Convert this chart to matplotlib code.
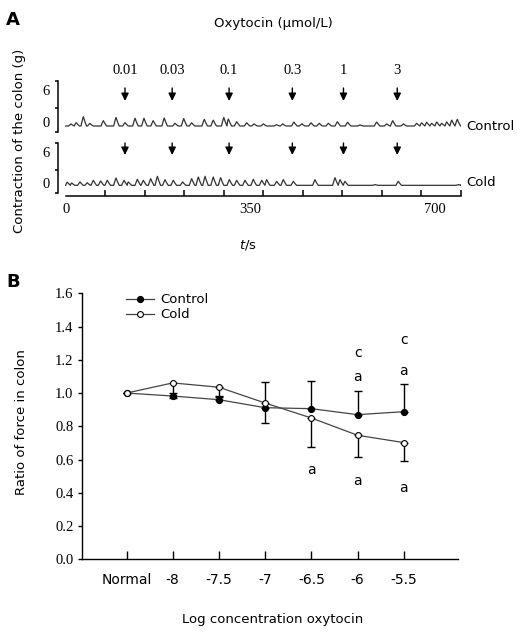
import numpy as np
import matplotlib
matplotlib.use("Agg")
import matplotlib.pyplot as plt

# ---------------- data ----------------
# Panel A: contraction traces (peak times in s, peak heights in g above baseline)
ctrl_peak_t = [10, 20, 33.5, 46, 71.5, 95.5, 112.6, 131.6, 148.6, 166, 187, 207.5, 224, 239,
               263, 280, 300, 308.7, 324.5, 343.5, 357.4, 375, 400, 411.8, 433, 448, 465.5,
               481, 498.4, 515.5, 535, 558.5, 590, 609, 620.5, 640.7, 666, 675.5, 685, 694.5,
               704, 713.5, 723, 732.5, 743]
ctrl_peak_h = [0.375, 0.625, 1.75, 0.5, 1.0, 1.6, 0.625, 1.45, 1.45, 1.0, 1.5, 0.5, 1.4, 0.6,
               1.25, 1.1, 1.6, 1.3, 0.8, 0.6, 0.4, 0.4, 0.25, 0.4, 0.75, 0.4, 0.6,
               0.5, 0.5, 0.8, 0.7, 0.2, 0.75, 0.4, 1.0, 0.4, 0.5, 0.6, 0.7, 0.5,
               0.75, 0.5, 0.75, 1.1, 1.25]
ctrl_base = -0.75

cold_peak_t = [3, 11.4, 27.2, 41, 52.5, 66.4, 79, 95.5, 110.7, 119, 136, 147.4, 161.3, 174,
               188.5, 204.3, 222, 239, 251.7, 264.4, 280, 294, 310.6, 324.5, 340.3, 356, 372,
               381.4, 400.4, 413, 432, 473, 511, 520.6, 530, 587, 631, 745]
cold_peak_h = [0.6, 0.45, 0.65, 0.5, 0.97, 0.84, 0.97, 1.42, 0.97, 0.65, 1.16, 0.97, 1.29, 1.74,
               1.1, 0.97, 0.65, 1.29, 1.61, 1.74, 1.61, 1.48, 1.1, 0.97, 0.97, 1.16, 0.97,
               1.1, 0.77, 1.1, 0.77, 1.1, 1.48, 1.1, 0.77, 0.13, 0.77, 0.13]
cold_base = -0.45

dose_times = [112.5, 202, 310, 430, 527, 629]
dose_labels = ["0.01", "0.03", "0.1", "0.3", "1", "3"]

# Panel B: ratio of force
conc_labels = ["Normal", "-8", "-7.5", "-7", "-6.5", "-6", "-5.5"]
control_vals = [1.0, 0.982, 0.960, 0.912, 0.906, 0.870, 0.888]
control_err_up = [0.0, 0.02, 0.02, 0.157, 0.169, 0.145, 0.169]
cold_vals = [1.0, 1.061, 1.035, 0.940, 0.850, 0.746, 0.702]
cold_err_down = [0.0, 0.089, 0.057, 0.122, 0.176, 0.128, 0.108]
sig_marks = [(5, 1.243, "c"), (5, 1.095, "a"), (6, 1.32, "c"), (6, 1.135, "a"),
             (4, 0.537, "a"), (5, 0.473, "a"), (6, 0.427, "a")]

SANS = ["DejaVu Sans"]
SERIF = ["Liberation Serif", "DejaVu Serif"]
plt.rcParams['font.family'] = SANS

W, H = 521, 637
fig = plt.figure(figsize=(W / 100, H / 100), dpi=100)


def frac_rect(x0, y_top, x1, y_bot):
    return [x0 / W, 1 - y_bot / H, (x1 - x0) / W, (y_bot - y_top) / H]


def build_trace(pt, ph, base, t0=0, t1=750, rise=4.5, fall=6.0):
    ts, ys = [t0], [base]
    for t, h in zip(pt, ph):
        a = max(t - rise, ts[-1])
        ts += [a, t - rise * 0.3, t, t + fall * 0.4, t + fall]
        ys += [ys[-1] if a == ts[-1] else base, base + h * 0.75, base + h, base + h * 0.55, base]
    ts.append(t1)
    ys.append(base)
    return np.array(ts), np.array(ys)


px_per_s = (461 - 65.7) / 750
xleft = -(65.7 - 58.3) / px_per_s

# ---- control trace axes ----
ax_c = fig.add_axes(frac_rect(58.3, 81, 461, 132))
s_c = 5.33
ax_c.set_ylim(-(132 - 122) / s_c, (122 - 81) / s_c)
ax_c.set_xlim(xleft, 750)
tc, yc = build_trace(ctrl_peak_t, ctrl_peak_h, ctrl_base)
ax_c.plot(tc, yc, color="#333333", lw=0.9)

# ---- cold trace axes ----
ax_d = fig.add_axes(frac_rect(58.3, 143, 461, 193))
s_d = 5.17
ax_d.set_ylim(-(193 - 183) / s_d, (183 - 143) / s_d)
ax_d.set_xlim(xleft, 750)
td, yd = build_trace(cold_peak_t, cold_peak_h, cold_base)
ax_d.plot(td, yd, color="#333333", lw=0.9)

for ax, s, lab0 in [(ax_c, s_c, 122), (ax_d, s_d, 183)]:
    for sp in ["top", "right", "bottom"]:
        ax.spines[sp].set_visible(False)
    ax.spines["left"].set_linewidth(1.1)
    lo, hi = ax.get_ylim()
    ax.set_yticks([0, 6])
    ax.set_yticklabels(["0", "6"], fontfamily=SERIF, fontsize=10.5)
    ax.tick_params(axis="y", which="major", length=0, pad=6)
    ax.set_yticks([lo, (lo + hi) / 2 - 0.3, hi], minor=True)
    ax.tick_params(axis="y", which="minor", length=2.5, width=1.1, direction="out")
    ax.patch.set_alpha(0)

ax_c.set_xticks([])
# time axis on cold axes
ax_d.spines["bottom"].set_visible(True)
ax_d.spines["bottom"].set_position(("outward", 2.2))
ax_d.spines["bottom"].set_bounds(0, 750)
ax_d.spines["bottom"].set_linewidth(1.1)
ax_d.set_xticks([0, 350, 700])
ax_d.set_xticklabels(["0", "350", "700"], fontfamily=SERIF, fontsize=10.5)
ax_d.tick_params(axis="x", which="major", length=0, pad=5)
ax_d.set_xticks(np.arange(0, 751, 75), minor=True)
ax_d.tick_params(axis="x", which="minor", length=4.5, width=1.1, direction="in")

# arrows and dose labels
for t, lab in zip(dose_times, dose_labels):
    ax_c.annotate("", xy=(t, (122 - 101) / s_c), xytext=(t, (122 - 88) / s_c),
                  arrowprops=dict(arrowstyle="-|>,head_length=0.45,head_width=0.22",
                                  color="black", lw=1.0, shrinkA=0, shrinkB=0),
                  annotation_clip=False)
    ax_d.annotate("", xy=(t, (183 - 155) / s_d), xytext=(t, (183 - 143) / s_d),
                  arrowprops=dict(arrowstyle="-|>,head_length=0.45,head_width=0.22",
                                  color="black", lw=1.0, shrinkA=0, shrinkB=0),
                  annotation_clip=False)
    ax_c.text(t, (122 - 71) / s_c, lab, ha="center", va="center",
              fontfamily=SERIF, fontsize=10.5, clip_on=False)

fig.text(466 / W, 1 - 126 / H, "Control", ha="left", va="center", fontsize=9.5)
fig.text(466 / W, 1 - 182 / H, "Cold", ha="left", va="center", fontsize=9.5)
fig.text(273 / W, 1 - 24 / H, "Oxytocin (\u03bcmol/L)", ha="center", va="center", fontsize=9.5)
fig.text(20 / W, 1 - 141 / H, "Contraction of the colon (g)", ha="center", va="center",
         rotation=90, fontsize=9.5)
fig.text(248 / W, 1 - 245 / H, "$\\it{t}$/s", ha="center", va="center", fontsize=9.5)
fig.text(13 / W, 1 - 20 / H, "A", ha="center", va="center", fontsize=13, fontweight="bold")
fig.text(13 / W, 1 - 282 / H, "B", ha="center", va="center", fontsize=13, fontweight="bold")

# ---------------- Panel B ----------------
axb = fig.add_axes(frac_rect(81.7, 293.3, 458.3, 559.3))
x = np.arange(len(conc_labels))
axb.set_xlim(-0.97, 7.18)
axb.set_ylim(0, 1.6)

axb.errorbar(x, control_vals, yerr=[np.zeros(len(x)), control_err_up], fmt="none",
             ecolor="black", elinewidth=1.0, capsize=3, capthick=1.0, zorder=2)
axb.errorbar(x, cold_vals, yerr=[cold_err_down, np.zeros(len(x))], fmt="none",
             ecolor="black", elinewidth=1.0, capsize=3, capthick=1.0, zorder=2)
axb.plot(x, control_vals, color="#444444", lw=0.9, marker="o", ms=4.2,
         mfc="black", mec="black", label="Control", zorder=3)
axb.plot(x, cold_vals, color="#444444", lw=0.9, marker="o", ms=4.2,
         mfc="white", mec="black", mew=0.8, label="Cold", zorder=4)

for xi, yi, s in sig_marks:
    axb.text(xi, yi, s, ha="center", va="center", fontsize=10)

for sp in ["top", "right"]:
    axb.spines[sp].set_visible(False)
axb.spines["left"].set_linewidth(1.0)
axb.spines["bottom"].set_linewidth(1.0)
axb.set_yticks(np.arange(0, 1.61, 0.2))
axb.set_yticklabels([f"{v:.1f}" for v in np.arange(0, 1.61, 0.2)], fontfamily=SERIF, fontsize=10.5)
axb.tick_params(axis="y", length=3, width=1.0, direction="out", pad=3)
axb.set_xticks(x)
axb.set_xticklabels(conc_labels, fontsize=10)
axb.tick_params(axis="x", length=5.5, width=1.0, direction="in", pad=10)

axb.legend(loc="upper left", bbox_to_anchor=(0.118, 1.0), frameon=False, fontsize=9.5,
           handlelength=2.1, handletextpad=0.5, labelspacing=0.15, borderpad=0,
           borderaxespad=0)

fig.text(22 / W, 1 - 422 / H, "Ratio of force in colon", ha="center", va="center",
         rotation=90, fontsize=9.5)
fig.text(273 / W, 1 - 620 / H, "Log concentration oxytocin", ha="center", va="center",
         fontsize=9.5)

fig.savefig("out.png", dpi=100)
